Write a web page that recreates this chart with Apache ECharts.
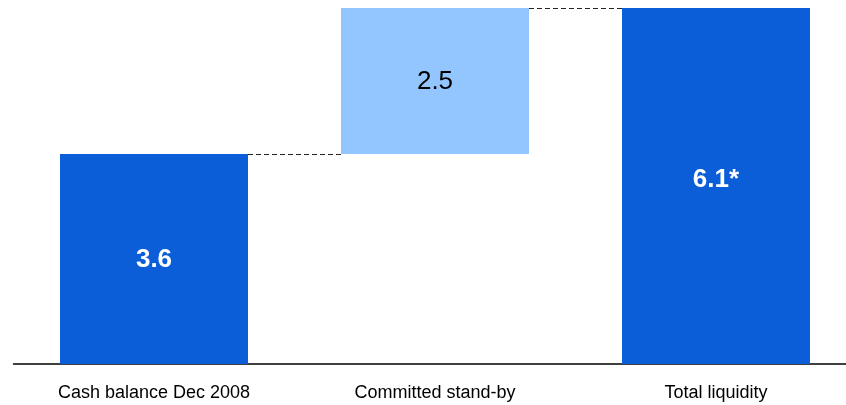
<!DOCTYPE html>
<html><head><meta charset="utf-8">
<script src="https://cdn.jsdelivr.net/npm/echarts@6/dist/echarts.min.js"></script>
<style>html,body{margin:0;padding:0;background:#fff}#c{width:846px;height:405px}</style>
</head><body><div id="c"></div>
<script>
var categories = ['Cash balance Dec 2008', 'Committed stand-by', 'Total liquidity'];
var baseValues = [0, 3.6, 0];
var barValues = [3.6, 2.5, 6.1];
var valueLabels = ['3.6', '2.5', '6.1*'];
var connectorLevels = [3.6, 6.1];

var DARK = '#0B5ED7', LIGHT = '#93C6FF';
var BW = 188;
var chart = echarts.init(document.getElementById('c'));
chart.setOption({
  animation: false,
  grid: {left: 13.5, width: 843, top: 8, bottom: 41, outerBoundsMode: 'none', containLabel: false},
  xAxis: {
    type: 'category', data: categories,
    axisLine: {lineStyle: {color: '#000', width: 1.5}},
    axisTick: {show: false},
    axisLabel: {color: '#000', fontFamily: 'Liberation Sans, Arial', fontSize: 18, margin: 20}
  },
  yAxis: {type: 'value', min: 0, max: 6.1, show: false, splitLine: {show: false}},
  series: [
    {type: 'bar', stack: 'w', data: baseValues, barWidth: BW, itemStyle: {color: 'transparent'}, silent: true},
    {type: 'bar', stack: 'w', barWidth: BW,
     data: barValues.map(function (v, i) {
       var light = i === 1;
       return {
         value: v,
         itemStyle: {color: light ? LIGHT : DARK},
         label: {
           show: true, position: 'inside',
           offset: i === 2 ? [0, -6] : [0, 1],
           formatter: valueLabels[i],
           color: light ? '#000' : '#fff',
           fontWeight: light ? 'normal' : 'bold',
           fontSize: 26, fontFamily: 'Liberation Sans, Arial'
         }
       };
     })},
    {type: 'custom', silent: true, z: 5,
     data: connectorLevels.map(function (v, i) { return [i, v]; }),
     renderItem: function (params, api) {
       var i = api.value(0), v = api.value(1);
       var p1 = api.coord([i, v]), p2 = api.coord([i + 1, v]);
       var y = Math.round(p1[1]) + 0.5;
       return {type: 'line', shape: {x1: p1[0] + BW / 2, y1: y, x2: p2[0] - BW / 2, y2: y},
               style: {stroke: '#222', lineWidth: 1, lineDash: [5, 3]}};
     }}
  ]
});
</script></body></html>
